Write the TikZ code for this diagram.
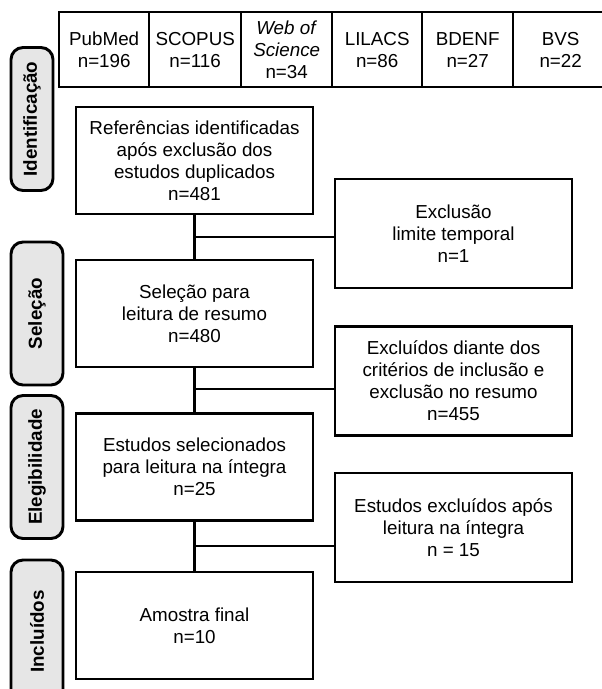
\documentclass[tikz,border=0pt]{standalone}
\usepackage{fontspec}
\setmainfont{Liberation Sans}
\definecolor{phasegray}{RGB}{230,230,230}

\begin{document}
\begin{tikzpicture}[x=0.75pt, y=-0.75pt,
  txt/.style={font=\fontsize{14.1}{16.5}\selectfont, align=center, inner sep=0pt},
  dbcell/.style={txt, draw, line width=1.8pt, minimum height=56.25pt, anchor=north west},
  flowbox/.style={txt, draw, line width=2.2pt, minimum width=177.75pt, minimum height=80.25pt},
  exbox/.style={txt, draw, line width=2.2pt, minimum width=177.75pt, minimum height=81.75pt},
  phase/.style={txt, font=\fontsize{14.1}{16.5}\selectfont\bfseries, draw, fill=phasegray,
    line width=2.2pt, rounded corners=9pt, rotate=90, minimum width=107.25pt, minimum height=39pt},
  link/.style={line width=2pt}]
\useasboundingbox (0,0) rectangle (601,689);

% bases de dados
\node[dbcell, minimum width=67.5pt] (pubmed) at (58,11) {PubMed\\n=196};
\node[dbcell, minimum width=69pt] (scopus) at (148,11) {SCOPUS\\n=116};
\node[dbcell, minimum width=68.25pt] (wos) at (240,11) {\textit{Web of}\\\textit{Science}\\n=34};
\node[dbcell, minimum width=67.5pt] (lilacs) at (331,11) {LILACS\\n=86};
\node[dbcell, minimum width=68.25pt] (bdenf) at (421,11) {BDENF\\n=27};
\node[dbcell, minimum width=71.25pt] (bvs) at (512,11) {BVS\\n=22};

% fases
\node[phase, minimum height=31.5pt] (fase1) at (32,119) {Identificação};
\node[phase] (fase2) at (37,313.5) {Seleção};
\node[phase] (fase3) at (37,467) {Elegibilidade};
\node[phase] (fase4) at (37,631.5) {Incluídos};

% fluxo principal
\node[flowbox] (refs) at (194.5,160.5) {Referências identificadas\\após exclusão dos\\estudos duplicados\\n=481};
\node[flowbox] (selec) at (194.5,313.5) {Seleção para\\leitura de resumo\\n=480};
\node[flowbox] (integra) at (194.5,467) {Estudos selecionados\\para leitura na íntegra\\n=25};
\node[flowbox] (amostra) at (194.5,625.5) {Amostra final\\n=10};

% exclusoes
\node[exbox] (extemp) at (453.5,233.5) {Exclusão\\limite temporal\\n=1};
\node[exbox] (exresumo) at (453.5,381) {Excluídos diante dos\\critérios de inclusão e\\exclusão no resumo\\n=455};
\node[exbox] (exintegra) at (453.5,527.5) {Estudos excluídos após\\leitura na íntegra\\n = 15};

% ligacoes
\coordinate (j1) at (194.5,237);
\coordinate (j2) at (194.5,389);
\coordinate (j3) at (194.5,546);
\draw[link] (refs) -- (selec);
\draw[link] (selec) -- (integra);
\draw[link] (integra) -- (amostra);
\draw[link] (j1) -- (j1 -| extemp.west);
\draw[link] (j2) -- (j2 -| exresumo.west);
\draw[link] (j3) -- (j3 -| exintegra.west);
\end{tikzpicture}
\end{document}
